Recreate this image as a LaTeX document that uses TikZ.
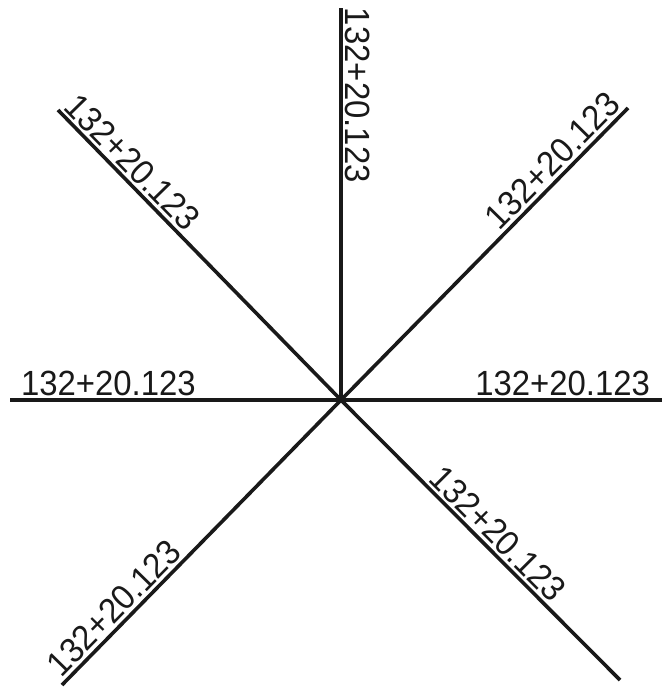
\documentclass[tikz,border=0pt]{standalone}
\usepackage{fontspec}
\setmainfont{Liberation Sans}
\usetikzlibrary{calc}
\newcommand{\lbltext}{\scalebox{0.94}[1]{132+20.123}}
\tikzset{
  ray/.style={line width=3.6pt, draw=black!90},
  lbl/.style={inner xsep=0pt, inner ysep=4.5pt, outer sep=0pt, font=\fontsize{35}{38}\selectfont, text=black!90}
}
\begin{document}
\begin{tikzpicture}[x=1pt,y=-1pt]
\useasboundingbox (0,0) rectangle (662,690);
\coordinate (C) at (341,400);
\coordinate (EU) at (341,8);
\coordinate (EUL) at (58,110);
\coordinate (EUR) at (628,108);
\coordinate (EL) at (10,400);
\coordinate (ER) at (662,400);
\coordinate (ELR) at (620,680);
\coordinate (ELL) at (62,685);
\foreach \e in {EU,EUL,EUR,EL,ER,ELR,ELL} {\draw[ray] (C) -- (\e);}
\node[lbl, rotate=-90, anchor=south west] (tU) at ($(EU)!0pt!(C)$) {\lbltext};
\node[lbl, rotate=-45.7, anchor=south west] (tUL) at ($(EUL)!2pt!(C)$) {\lbltext};
\node[lbl, rotate=45.5, anchor=south east] (tUR) at ($(EUR)!3pt!(C)$) {\lbltext};
\node[lbl, anchor=south west] (tL) at ($(EL)!11pt!(C)$) {\lbltext};
\node[lbl, anchor=south east] (tR) at ($(ER)!12pt!(C)$) {\lbltext};
\node[lbl, rotate=-45.1, anchor=south west] (tLR) at ($(C)!118pt!(ELR)$) {\lbltext};
\node[lbl, rotate=45.6, anchor=south west] (tLL) at ($(ELL)!4pt!(C)$) {\lbltext};
\end{tikzpicture}
\end{document}
